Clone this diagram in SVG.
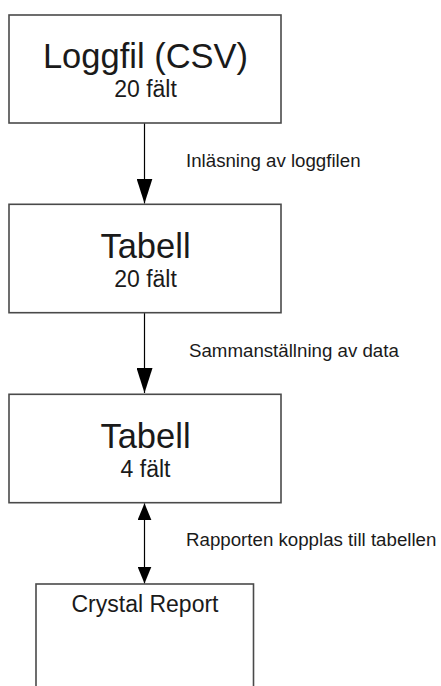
<svg xmlns="http://www.w3.org/2000/svg" width="441" height="686" viewBox="0 0 441 686">
  <style>
    .box { fill: #ffffff; stroke: #4a4a4a; stroke-width: 1.6; }
    .title { font-family: "Liberation Sans", Arial, sans-serif; font-size: 34.5px; fill: #1a1a1a; text-anchor: middle; }
    .sub { font-family: "Liberation Sans", Arial, sans-serif; font-size: 23px; fill: #1a1a1a; text-anchor: middle; }
    .label { font-family: "Liberation Sans", Arial, sans-serif; font-size: 18.7px; fill: #1a1a1a; }
    .conn { stroke: #000000; stroke-width: 1.2; fill: none; }
  </style>
  <defs>
    <marker id="head" markerUnits="userSpaceOnUse" markerWidth="25" markerHeight="16" refX="25" refY="8" orient="auto">
      <path d="M0,0 L25,8 L0,16 Z" fill="#000000"/>
    </marker>
    <marker id="headSmall" markerUnits="userSpaceOnUse" markerWidth="17" markerHeight="14" refX="17" refY="7" orient="auto-start-reverse">
      <path d="M0,0 L17,7 L0,14 Z" fill="#000000"/>
    </marker>
  </defs>
  <rect width="441" height="686" fill="#ffffff"/>

  <g id="connectors">
    <line class="conn" x1="144.5" y1="123" x2="144.5" y2="203.5" marker-end="url(#head)"/>
    <text class="label" x="186" y="166.7">Inläsning av loggfilen</text>
    <line class="conn" x1="144.5" y1="313" x2="144.5" y2="393" marker-end="url(#head)"/>
    <text class="label" x="189" y="356.7">Sammanställning av data</text>
    <line class="conn" x1="144.5" y1="503.3" x2="144.5" y2="583.5" marker-start="url(#headSmall)" marker-end="url(#headSmall)"/>
    <text class="label" x="186" y="546">Rapporten kopplas till tabellen</text>
  </g>

  <g id="loggfil">
    <rect class="box" x="9" y="15" width="272" height="108"/>
    <text class="title" x="145.5" y="68">Loggfil (CSV)</text>
    <text class="sub" x="145.5" y="96.7">20 fält</text>
  </g>

  <g id="tabell20">
    <rect class="box" x="9" y="204.3" width="272" height="108.4"/>
    <text class="title" x="145.5" y="257.7">Tabell</text>
    <text class="sub" x="145.5" y="286.7">20 fält</text>
  </g>

  <g id="tabell4">
    <rect class="box" x="9" y="394.3" width="272" height="108.4"/>
    <text class="title" x="145.5" y="447.7">Tabell</text>
    <text class="sub" x="145.5" y="476.7">4 fält</text>
  </g>

  <g id="crystal">
    <rect class="box" x="36" y="584" width="217.5" height="130"/>
    <text class="sub" x="145" y="611.7">Crystal Report</text>
  </g>
</svg>
